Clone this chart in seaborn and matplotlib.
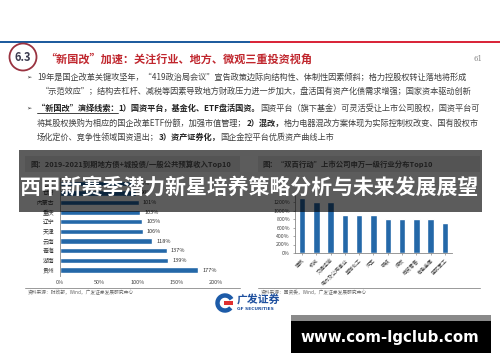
import numpy as np
import pandas as pd
import seaborn as sns
import matplotlib.pyplot as plt
from matplotlib.patches import Rectangle, Circle, Arc

# Left chart: 2019-2021 maturing local debt / budget revenue, Top10
left_regions = ["吉林", "甘肃", "内蒙古", "重庆", "辽宁", "天津", "云南", "青海", "湖南", "贵州"]
left_values = [95, 98, 101, 103, 105, 106, 118, 137, 139, 177]
left_ticks = [0, 50, 100, 150, 200]

# Right chart: industry distribution of "双百行动" listed companies
right_industries = ["建筑", "机械", "交通运输", "电力及公用事业", "基础化工", "汽车",
                    "钢铁", "煤炭", "商贸零售", "有色金属", "国防军工"]
right_values = [13, 12, 12, 9, 9, 9, 8, 8, 8, 8, 7]
right_ticks = [0, 2, 4, 6, 8, 10, 12]

sns.set_theme(style="white")
plt.rcParams["font.family"] = ["Noto Sans CJK SC", "DejaVu Sans"]

W, H = 500, 362
fig = plt.figure(figsize=(5, 3.62), dpi=100)
fig.patch.set_facecolor("white")

# background axes in pixel units
bg = fig.add_axes([0, 0, 1, 1], zorder=0)
bg.set_xlim(0, W)
bg.set_ylim(H, 0)
bg.axis("off")

# top rule
bg.add_patch(Rectangle((0, 40.5), 250, 2.6, color="#1f5c9e", lw=0))
bg.add_patch(Rectangle((250, 40.5), 250, 2.6, color="#d9263a", lw=0))

# section badge + title
bg.add_patch(Circle((23, 57), 13.5, fill=False, ec="#9a3340", lw=1.3))
bg.text(23, 57.5, "6.3", ha="center", va="center", fontsize=8, fontweight="bold",
        color="#3b3b4f")
bg.text(45, 59, "“新国改”加速：关注行业、地方、微观三重投资视角", ha="left", va="center",
        fontsize=8.0, fontweight="bold", color="#c0262d")
bg.text(478, 59, "61", ha="center", va="center", fontsize=5, color="#888888",
        family=["DejaVu Serif"])

# bullets
txt_col = "#404040"
fs = 5.9
for y in (77, 108):
    bg.text(29, y, "➢", ha="center", va="center", fontsize=4.5, color="#333333",
            family=["DejaVu Sans"])
bg.text(37, 77, "19年是国企改革关键攻坚年，“419政治局会议”宣告政策边际向结构性、体制性因素倾斜；格力控股权转让落地将形成",
        ha="left", va="center", fontsize=fs, color=txt_col)
bg.text(41, 91.5, "“示范效应”；结构去杠杆、减税等因素导致地方财政压力进一步加大，盘活国有资产化债需求增强；国家资本驱动创新",
        ha="left", va="center", fontsize=fs, color=txt_col)


def chain(x, y, parts):
    prev = None
    for s, bold in parts:
        kw = dict(fontsize=fs, color="#222222" if bold else txt_col,
                  fontweight="bold" if bold else "normal", va="center", ha="left")
        if prev is None:
            prev = bg.text(x, y, s, **kw)
        else:
            prev = bg.annotate(s, xy=(1, 0.5), xycoords=prev, **kw)
    return prev


chain(37, 108, [("“新国改”演绎线索：", True), ("1）国资平台，基金化、ETF盘活国资。", True),
                ("国资平台（旗下基金）可灵活受让上市公司股权，国资平台可", False)])
bg.plot([37, 118], [112.8, 112.8], color="#222222", lw=0.6)
chain(37, 123, [("将其股权换购为相应的国企改革ETF份额，加强市值管理；", False), ("2）混改，", True),
                ("格力电器混改方案体现为实际控制权改变、国有股权市", False)])
chain(37, 137.5, [("场化定价、竞争性领域国资退出；", False), ("3）资产证券化，", True),
                  ("国企金控平台优质资产曲线上市", False)])

# chart headers
bg.add_patch(Rectangle((25, 156), 215, 16, color="#e9e9e9", lw=0))
bg.add_patch(Rectangle((258, 156), 222, 16, color="#e9e9e9", lw=0))
bg.text(30, 164, "图：2019-2021到期地方债+城投债/一般公共预算收入Top10", ha="left", va="center",
        fontsize=5.3, fontweight="bold", color="#555555")
bg.text(262, 164, "图：“双百行动”上市公司申万一级行业分布Top10", ha="left", va="center",
        fontsize=5.3, fontweight="bold", color="#555555")

# source lines
bg.plot([25, 240], [288, 288], color="#999999", lw=0.7)
bg.plot([258, 480], [288, 288], color="#999999", lw=0.7)
bg.text(28, 292, "资料来源：财政部，Wind，广发证券发展研究中心", ha="left", va="center",
        fontsize=3.4, color="#666666")
bg.text(261, 292, "资料来源：国资委，Wind，广发证券发展研究中心", ha="left", va="center",
        fontsize=3.4, color="#666666")

# logo
bg.add_patch(Arc((225, 303), 15, 15, theta1=40, theta2=330, color="#1d5ba8", lw=3.2))
bg.add_patch(Rectangle((224, 301), 9, 3.5, color="#e03030", lw=0))
bg.text(237, 300, "广发证券", ha="left", va="center", fontsize=7.8, fontweight="bold",
        color="#1d4f9e")
bg.text(237, 309.5, "GF SECURITIES", ha="left", va="center", fontsize=3.2, fontweight="bold",
        color="#1d4f9e", family=["DejaVu Sans"])

bar_col = "#2468a8"

# left chart
axl = fig.add_axes([60 / W, 1 - 276 / H, 156 / W, (276 - 178.4) / H], zorder=1)
dfl = pd.DataFrame({"region": left_regions, "value": left_values})
sns.barplot(data=dfl, x="value", y="region", orient="h", color=bar_col, width=0.55,
            saturation=1, ax=axl)
axl.bar_label(axl.containers[0], labels=[f"{v}%" for v in left_values], padding=3,
              fontsize=4, color="#333333")
axl.set_xlim(0, 200)
axl.set_ylim(9.62, -0.5)
axl.set_xticks(left_ticks)
axl.set_xticklabels([f"{t}%" for t in left_ticks], fontsize=4, color="#444444")
axl.tick_params(axis="y", labelsize=4.2, labelcolor="#333333", length=0, pad=4)
axl.tick_params(axis="x", length=0, pad=3)
axl.set_xlabel("")
axl.set_ylabel("")
for s in ("top", "right", "bottom"):
    axl.spines[s].set_visible(False)
axl.spines["left"].set_color("#888888")
axl.spines["left"].set_linewidth(0.6)
axl.patch.set_alpha(0)

# right chart
axr = fig.add_axes([294.9 / W, 1 - 253 / H, (452 - 294.9) / W, (253 - 193.5) / H], zorder=1)
dfr = pd.DataFrame({"industry": right_industries, "count": right_values})
sns.barplot(data=dfr, x="industry", y="count", color=bar_col, width=0.45, saturation=1,
            ax=axr)
axr.set_ylim(0, 14)
axr.set_yticks(right_ticks)
axr.set_yticklabels([f"{t * 100}%" for t in right_ticks], fontsize=3.8, color="#444444")
axr.set_xticks(range(len(right_industries)))
axr.set_xticklabels(right_industries, rotation=45, ha="right", rotation_mode="anchor",
                    fontsize=3.6, color="#444444")
axr.tick_params(axis="both", length=1.5, width=0.5, color="#888888", pad=2)
axr.tick_params(axis="x", bottom=True)
axr.tick_params(axis="y", left=True)
axr.set_xlabel("")
axr.set_ylabel("")
for s in ("top", "right"):
    axr.spines[s].set_visible(False)
for s in ("left", "bottom"):
    axr.spines[s].set_color("#888888")
    axr.spines[s].set_linewidth(0.6)
axr.patch.set_alpha(0)

# overlay layer
ov = fig.add_axes([0, 0, 1, 1], zorder=5)
ov.set_xlim(0, W)
ov.set_ylim(H, 0)
ov.axis("off")
ov.patch.set_alpha(0)
ov.add_patch(Rectangle((19, 150), 463, 62, color="#000000", alpha=0.64, lw=0))
ov.text(250, 187, "西甲新赛季潜力新星培养策略分析与未来发展展望", ha="center", va="center",
        fontsize=15, fontweight="bold", color="white")

ov.add_patch(Rectangle((291, 315), 200, 5.5, color="#8a8a8a", lw=0))
ov.add_patch(Rectangle((291, 320.5), 200, 32, color="#000000", lw=0))
ov.text(390, 337.5, "www.com-lgclub.com", ha="center", va="center", fontsize=10.8,
        fontweight="bold", color="white", family=["DejaVu Sans"])

fig.savefig("out.png", dpi=100)
